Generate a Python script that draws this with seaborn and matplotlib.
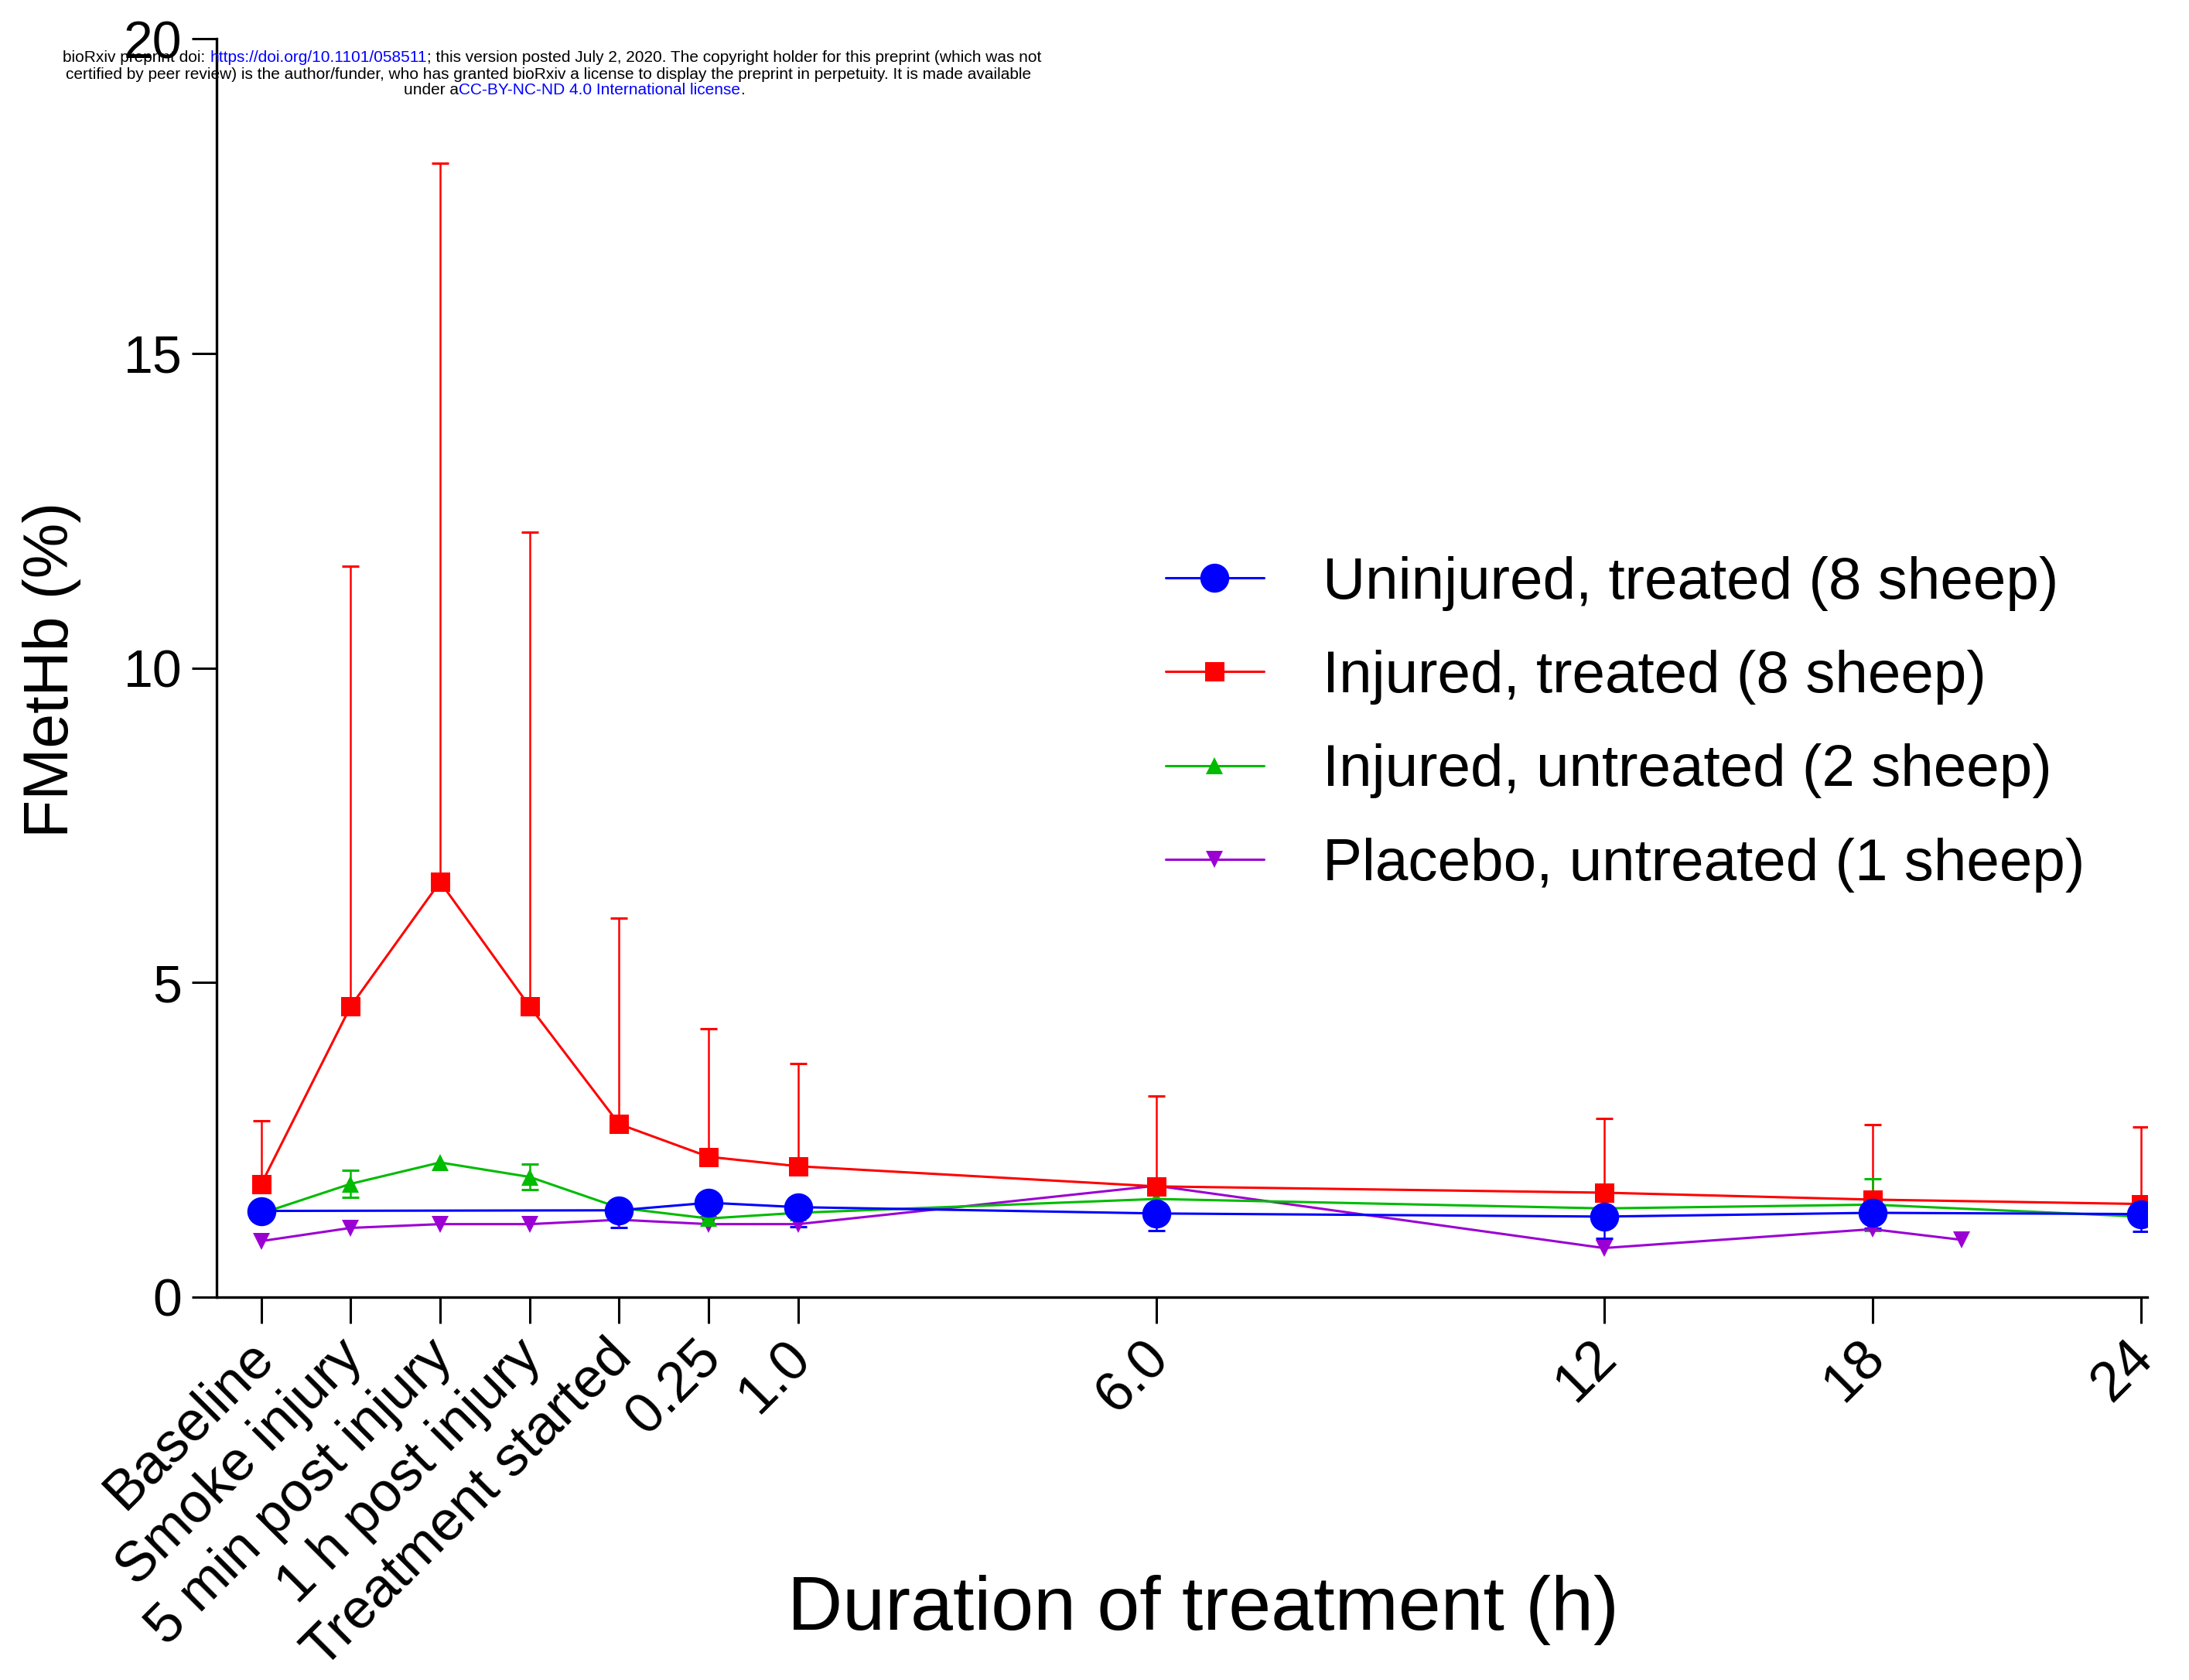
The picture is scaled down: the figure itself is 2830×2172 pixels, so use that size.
import numpy as np
import pandas as pd
import matplotlib
matplotlib.use("Agg")
import matplotlib.pyplot as plt
import seaborn as sns

sns.set_style("ticks")
plt.rcParams['font.family'] = ['Liberation Sans', 'DejaVu Sans']
plt.rcParams['text.color'] = 'black'
plt.rcParams['axes.labelcolor'] = 'black'
plt.rcParams['xtick.color'] = 'black'
plt.rcParams['ytick.color'] = 'black'

# x categories and their (uneven) positions on the axis
x_labels = ["Baseline", "Smoke injury", "5 min post injury", "1 h post injury",
            "Treatment started", "0.25", "1.0", "6.0", "12", "18", "24"]
x_pos = [0, 1, 2, 3, 4, 5, 6, 10, 15, 18, 21]

# Uninjured, treated (8 sheep) - no samples during injury phase
blue_x = [0, 4, 5, 6, 10, 15, 18, 21]
blue_y = [1.37, 1.38, 1.50, 1.43, 1.33, 1.28, 1.34, 1.32]
blue_err_lo = [0.10, 0.27, 0.10, 0.31, 0.27, 0.35, 0.25, 0.28]

# Injured, treated (8 sheep)
red_x = [0, 1, 2, 3, 4, 5, 6, 10, 15, 18, 21]
red_y = [1.79, 4.62, 6.60, 4.62, 2.75, 2.23, 2.08, 1.76, 1.66, 1.55, 1.48]
red_err_hi = [1.01, 7.00, 11.42, 7.54, 3.27, 2.04, 1.63, 1.43, 1.18, 1.19, 1.23]

# Injured, untreated (2 sheep)
green_x = [0, 1, 2, 3, 4, 5, 6, 10, 15, 18, 21]
green_y = [1.33, 1.80, 2.14, 1.91, 1.42, 1.25, 1.34, 1.56, 1.41, 1.47, 1.28]
green_err = [np.nan, 0.22, np.nan, 0.20, np.nan, np.nan, np.nan, np.nan, np.nan, 0.41, np.nan]

# Placebo, untreated (1 sheep)
purple_x = [0, 1, 2, 3, 4, 5, 6, 10, 15, 18, 19]
purple_y = [0.89, 1.10, 1.16, 1.16, 1.23, 1.16, 1.16, 1.77, 0.78, 1.08, 0.91]

BLUE, RED, GREEN, PURPLE = "#0000FF", "#FF0000", "#00BB00", "#9B00D3"

fig = plt.figure(figsize=(28.3, 21.72), dpi=100)
ax = fig.add_axes([280 / 2830, 1 - 1677 / 2172, (2776 - 280) / 2830, (1677 - 50) / 2172])

cap = dict(capsize=8, capthick=2.2, elinewidth=1.8, fmt='none')

# error bars (drawn under the markers)
ax.errorbar(red_x, red_y, yerr=[np.zeros(len(red_y)), red_err_hi], ecolor=RED, zorder=2, **cap)
ax.errorbar(blue_x, blue_y, yerr=[blue_err_lo, np.zeros(len(blue_y))], ecolor=BLUE, zorder=2, **cap)
g = pd.DataFrame({"x": green_x, "y": green_y, "e": green_err}).dropna()
ax.errorbar(g["x"], g["y"], yerr=g["e"], ecolor=GREEN, zorder=2, **cap)

line_kw = dict(linewidth=2.2, markeredgewidth=0, ax=ax, sort=False)
sns.lineplot(x=blue_x, y=blue_y, color=BLUE, marker='o', markersize=27,
             label="Uninjured, treated (8 sheep)", zorder=6, **line_kw)
sns.lineplot(x=red_x, y=red_y, color=RED, marker='s', markersize=18,
             label="Injured, treated (8 sheep)", zorder=5, **line_kw)
sns.lineplot(x=green_x, y=green_y, color=GREEN, marker='^', markersize=16,
             label="Injured, untreated (2 sheep)", zorder=4, **line_kw)
sns.lineplot(x=purple_x, y=purple_y, color=PURPLE, marker='v', markersize=16,
             label="Placebo, untreated (1 sheep)", zorder=3, **line_kw)

ax.set_xlim(-0.497, 21.07)
ax.set_ylim(0, 20)
ax.set_yticks([0, 5, 10, 15, 20])
ax.set_xticks(x_pos)
ax.set_xticklabels(x_labels, rotation=45, ha='right', va='center_baseline',
                   rotation_mode='anchor')
sns.despine(ax=ax)
for s in ("left", "bottom"):
    ax.spines[s].set_linewidth(2.4)
    ax.spines[s].set_color("black")
ax.tick_params(axis='y', length=23, width=2.2, pad=9, labelsize=49, colors='black')
ax.tick_params(axis='x', length=24.5, width=2.2, pad=20, labelsize=52, colors='black')

ax.set_ylabel("FMetHb (%)", fontsize=58)
ax.set_xlabel("Duration of treatment (h)", fontsize=71)
ax.yaxis.set_label_coords(-0.070, 0.4985)
ax.xaxis.set_label_coords(0.511, -0.2207)

leg = ax.legend(loc='center left', bbox_to_anchor=(0.5325, 0.569), bbox_transform=fig.transFigure,
                frameon=False, fontsize=55, borderpad=0, borderaxespad=0,
                handlelength=1.66, handletextpad=1.0, labelspacing=0.66)

# bioRxiv header stamp
hs = 15
sp = 0.278 * hs
t1 = fig.text(81 / 2830, 1 - 74 / 2172, "bioRxiv preprint doi:", fontsize=hs, va='center', ha='left')
t2 = ax.annotate("https://doi.org/10.1101/058511", xy=(1, 0), xycoords=t1, xytext=(sp, 0),
                 textcoords='offset points', va='bottom', ha='left', fontsize=hs, color='#0000FF')
ax.annotate("; this version posted July 2, 2020. The copyright holder for this preprint (which was not",
            xy=(1, 0), xycoords=t2, va='bottom', ha='left', fontsize=hs)
fig.text(85 / 2830, 1 - 96 / 2172,
         "certified by peer review) is the author/funder, who has granted bioRxiv a license to display "
         "the preprint in perpetuity. It is made available", fontsize=hs, va='center', ha='left')
t4 = fig.text(522 / 2830, 1 - 116 / 2172, "under a", fontsize=hs, va='center', ha='left')
t5 = ax.annotate("CC-BY-NC-ND 4.0 International license", xy=(1, 0), xycoords=t4,
                 va='bottom', ha='left', fontsize=hs, color='#0000FF')
ax.annotate(".", xy=(1, 0), xycoords=t5, va='bottom', ha='left', fontsize=hs)

fig.savefig("out.png", dpi=100)
